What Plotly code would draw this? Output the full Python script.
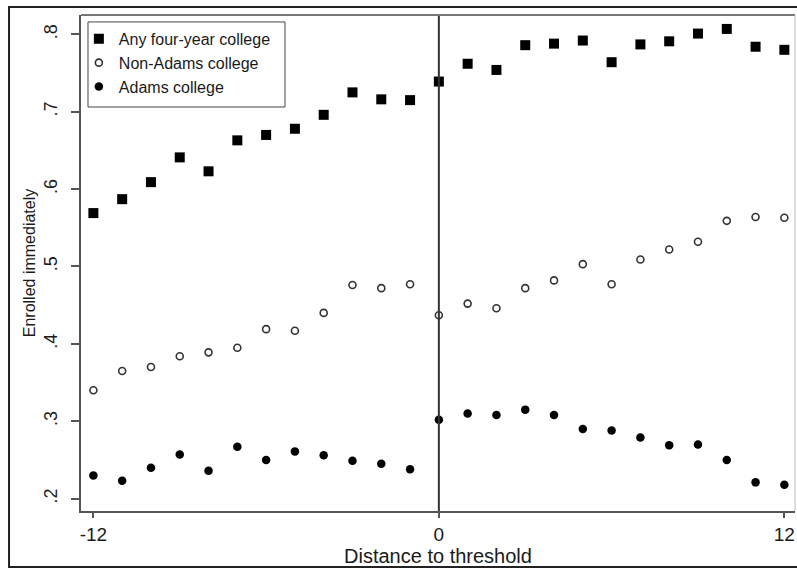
import plotly.graph_objects as go

x_vals = list(range(-12, 13))

any_four_year = [0.569, 0.587, 0.609, 0.641, 0.623, 0.663, 0.670, 0.678, 0.696, 0.725, 0.716, 0.715,
                 0.739, 0.762, 0.754, 0.786, 0.788, 0.792, 0.764, 0.787, 0.791, 0.801, 0.807, 0.784, 0.780]
non_adams = [0.340, 0.365, 0.370, 0.384, 0.389, 0.395, 0.419, 0.417, 0.440, 0.476, 0.472, 0.477,
             0.437, 0.452, 0.446, 0.472, 0.482, 0.503, 0.477, 0.509, 0.522, 0.532, 0.559, 0.564, 0.563]
adams = [0.230, 0.223, 0.240, 0.257, 0.236, 0.267, 0.250, 0.261, 0.256, 0.249, 0.245, 0.238,
         0.302, 0.310, 0.308, 0.315, 0.308, 0.290, 0.288, 0.279, 0.269, 0.270, 0.250, 0.221, 0.218]

y_ticks = [0.2, 0.3, 0.4, 0.5, 0.6, 0.7, 0.8]
y_tick_text = [".2", ".3", ".4", ".5", ".6", ".7", ".8"]
x_ticks = [-12, 0, 12]
x_tick_text = ["-12", "0", "12"]

FONT = "Liberation Sans, Arial, sans-serif"
TXT = "#1a1a1a"

fig = go.Figure()
fig.add_trace(go.Scatter(x=x_vals, y=any_four_year, mode="markers", name="Any four-year college",
                         marker=dict(symbol="square", size=10, color="black", line=dict(width=0))))
fig.add_trace(go.Scatter(x=x_vals, y=non_adams, mode="markers", name="Non-Adams college",
                         marker=dict(symbol="circle-open", size=7, color="#333333", line=dict(width=1.6))))
fig.add_trace(go.Scatter(x=x_vals, y=adams, mode="markers", name="Adams college",
                         marker=dict(symbol="circle", size=8.5, color="black", line=dict(width=0))))

shapes = [
    # vertical line at threshold
    dict(type="line", xref="x", yref="paper", x0=0, x1=0, y0=0, y1=1,
         line=dict(color="#333333", width=2), layer="above"),
    # plot region top/right border
    dict(type="line", xref="paper", yref="paper", x0=0, x1=1, y0=1, y1=1,
         line=dict(color="#777777", width=2)),
    dict(type="line", xref="paper", yref="paper", x0=1, x1=1, y0=0, y1=1,
         line=dict(color="#bbbbbb", width=1)),
    # outer frame
    dict(type="rect", xref="paper", yref="paper", x0=-0.1008, x1=1.01, y0=-0.113, y1=1.016,
         line=dict(color="#222222", width=2), fillcolor="rgba(0,0,0,0)", layer="below"),
    # legend box
    dict(type="rect", xref="paper", yref="paper", x0=0.0098, x1=0.2857, y0=0.8145, y1=0.986,
         line=dict(color="#444444", width=1), fillcolor="white", layer="above"),
]

fig.update_layout(
    width=797, height=568,
    margin=dict(l=81, r=2, t=15, b=57, pad=0),
    paper_bgcolor="white", plot_bgcolor="white",
    font=dict(family=FONT, color=TXT, size=17),
    showlegend=True,
    legend=dict(x=-0.003, y=0.986, xanchor="left", yanchor="top",
                bgcolor="rgba(0,0,0,0)", borderwidth=0,
                font=dict(family=FONT, size=16, color=TXT),
                tracegroupgap=0),
    shapes=shapes,
    xaxis=dict(range=[-12.43, 12.37], tickmode="array", tickvals=x_ticks, ticktext=x_tick_text,
               showgrid=False, zeroline=False, showline=True, linecolor="#555555", linewidth=2,
               ticks="outside", ticklen=5, tickwidth=1.5, tickcolor="#555555",
               tickangle=0,
               tickfont=dict(family=FONT, size=19, color=TXT),
               title=dict(text="Distance to threshold", font=dict(family=FONT, size=20, color=TXT), standoff=1)),
    yaxis=dict(range=[0.184, 0.825], tickmode="array", tickvals=y_ticks, ticktext=y_tick_text,
               showgrid=False, zeroline=False, showline=True, linecolor="#555555", linewidth=2,
               ticks="outside", ticklen=8, tickwidth=1.5, tickcolor="#555555", tickangle=-90,
               ticklabelstandoff=7,
               tickfont=dict(family=FONT, size=18, color=TXT),
               title=dict(text="Enrolled immediately", font=dict(family=FONT, size=16, color=TXT), standoff=1)),
)

fig.write_html("out.html")
